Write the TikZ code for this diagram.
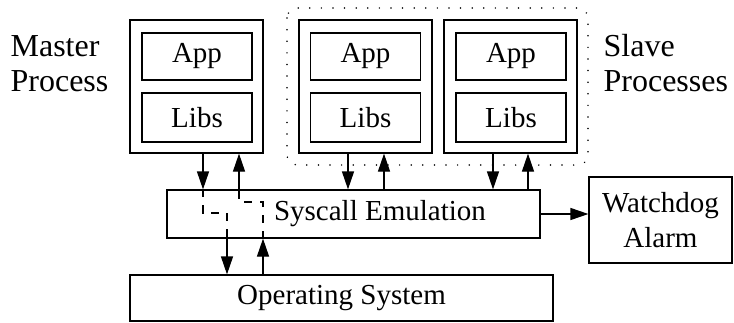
\documentclass[tikz,border=0pt]{standalone}
\usepackage{fontspec}
\setmainfont{Liberation Serif}
\usetikzlibrary{arrows.meta}
\begin{document}
\begin{tikzpicture}[x=1pt,y=-1pt,line width=1.2pt,
  box/.style={draw,inner sep=0pt,font=\fontsize{29}{31}\selectfont},
  lbl/.style={align=left,inner sep=0pt,font=\fontsize{32}{35}\selectfont},
  arr/.style={-{Triangle[length=18pt,width=12pt]}},
  dsh/.style={dash pattern=on 8pt off 8pt},
  grp/.style={draw,line width=1.6pt,dash pattern=on 0.1pt off 11.5pt,line cap=round,rounded corners=10pt}]
\useasboundingbox (0,0) rectangle (734,322);
% group
\draw[grp] (287,8) rectangle (588,165);
% master
\node[box,minimum width=133pt,minimum height=133pt] (m) at (196.5,86.5) {};
\node[box,minimum width=110pt,minimum height=47pt] (mapp) at (197,56.5) {App};
\node[box,minimum width=110pt,minimum height=49pt] (mlib) at (197,117.5) {Libs};
% slave 1
\node[box,minimum width=133pt,minimum height=133pt] (s1) at (365.5,86.5) {};
\node[box,minimum width=110pt,minimum height=47pt] (s1app) at (365.5,56.5) {App};
\node[box,minimum width=110pt,minimum height=49pt] (s1lib) at (365.5,117.5) {Libs};
% slave 2
\node[box,minimum width=133pt,minimum height=133pt] (s2) at (510.5,86.5) {};
\node[box,minimum width=110pt,minimum height=47pt] (s2app) at (511,56.5) {App};
\node[box,minimum width=110pt,minimum height=49pt] (s2lib) at (511,117.5) {Libs};
% syscall, watchdog, os
\node[box,minimum width=373pt,minimum height=48pt] (sys) at (353.5,214) {\hspace*{53pt}Syscall Emulation};
\node[box,minimum width=143pt,minimum height=86pt,align=center] (wd) at (660.5,220) {Watchdog\\[4pt]Alarm};
\node[box,minimum width=423pt,minimum height=46pt] (os) at (341.5,298) {Operating System};
% labels
\node[lbl,anchor=base west] (ml) at (10,91) {Master\\Process};
\node[lbl,anchor=base west] (sl) at (603,91) {Slave\\Processes};
% helper coordinates
\coordinate (xa) at (203,0);
\coordinate (xb) at (239,0);
\coordinate (xc) at (227,0);
\coordinate (xd) at (263,0);
\coordinate (ya) at (0,213);
\coordinate (yb) at (0,202);
\coordinate (s1a) at (348,0);
\coordinate (s1b) at (384,0);
\coordinate (s2a) at (493,0);
\coordinate (s2b) at (528,0);
% master arrows
\draw[arr] (m.south -| xa) -- (sys.north -| xa);
\draw[arr] (sys.north -| xb) -- (m.south -| xb);
\draw[dsh] (sys.north -| xa) -- (xa |- ya) -- (xc |- ya) -- (sys.south -| xc);
\draw[arr] (sys.south -| xc) -- (os.north -| xc);
\draw[arr] (os.north -| xd) -- (sys.south -| xd);
\draw[dsh] (sys.south -| xd) -- (xd |- yb) -- (xb |- yb) -- (sys.north -| xb);
% slave arrows
\draw[arr] (s1.south -| s1a) -- (sys.north -| s1a);
\draw[arr] (sys.north -| s1b) -- (s1.south -| s1b);
\draw[arr] (s2.south -| s2a) -- (sys.north -| s2a);
\draw[arr] (sys.north -| s2b) -- (s2.south -| s2b);
% watchdog
\draw[arr] (sys.east) -- (wd.west |- sys.east);
\end{tikzpicture}
\end{document}
